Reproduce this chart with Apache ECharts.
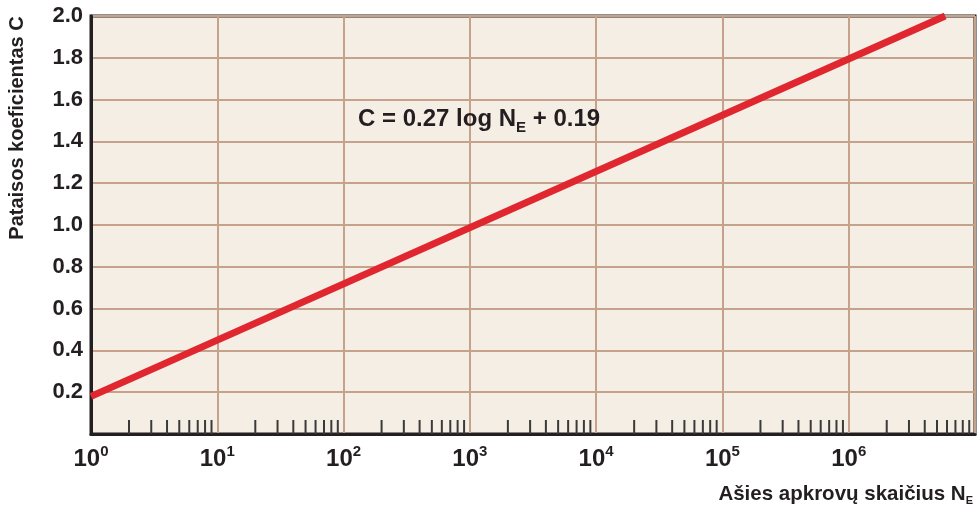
<!DOCTYPE html>
<html>
<head>
<meta charset="utf-8">
<script src="https://cdn.jsdelivr.net/npm/echarts@6/dist/echarts.min.js"></script>
<style>
html,body{margin:0;padding:0;background:#fff;}
#c{width:980px;height:509px;}
</style>
</head>
<body>
<div id="c"></div>
<script>
// Data
const xMin = 1, xMax = 1e7;
const yMin = 0, yMax = 2.0, yStep = 0.2;
const lineN = [1, 5.8e6];
const lineC = [0.18, 2.0];
const minorMultipliers = [2, 3, 4, 5, 6, 7, 8, 9];
const decades = [1, 10, 100, 1000, 10000, 100000, 1000000];
const formulaMain1 = 'C = 0.27 log N';
const formulaSub = 'E';
const formulaMain2 = ' + 0.19';
const yTitle = 'Pataisos koeficientas C';
const xTitle = 'Ašies apkrovų skaičius N';
const xTitleSub = 'E';

const lineData = lineN.map((n, i) => [n, lineC[i]]);
const minorTicks = [];
decades.forEach(d => minorMultipliers.forEach(m => minorTicks.push([m * d, 0])));

const numFont = "'Liberation Sans', Arial, sans-serif";
const titleFont = "'Liberation Sans', Arial, sans-serif";
const dark = '#231f20';
const gridCol = '#c6a28c';

const chart = echarts.init(document.getElementById('c'), null, {renderer: 'canvas'});
chart.setOption({
  animation: false,
  grid: {left: 91, right: 5, top: 16, bottom: 75, show: true,
         backgroundColor: '#f5eee5', borderColor: dark, borderWidth: 3},
  xAxis: {
    type: 'log', logBase: 10, min: xMin, max: xMax,
    axisLine: {show: true, lineStyle: {color: dark, width: 3}},
    axisTick: {show: false},
    splitLine: {show: true, lineStyle: {color: gridCol, width: 2}},
    axisLabel: {
      margin: 10,
      showMaxLabel: false,
      formatter: function (v) {
        const e = Math.round(Math.log10(v));
        if (e >= 7) return '';
        return '{b|10}{s|' + e + '}';
      },
      rich: {
        b: {fontFamily: numFont, fontWeight: 'bold', fontSize: 24, color: dark, lineHeight: 30},
        s: {fontFamily: numFont, fontWeight: 'bold', fontSize: 15, color: dark, lineHeight: 12, verticalAlign: 'top'}
      }
    }
  },
  yAxis: {
    type: 'value', min: yMin, max: yMax, interval: yStep,
    axisLine: {show: true, lineStyle: {color: dark, width: 3}},
    axisTick: {show: false},
    splitLine: {show: true, lineStyle: {color: gridCol, width: 2}},
    axisLabel: {
      margin: 8, showMinLabel: false,
      fontFamily: numFont, fontWeight: 'bold', fontSize: 22, color: dark,
      formatter: v => v.toFixed(1)
    }
  },
  series: [
    {
      type: 'custom',
      coordinateSystem: 'cartesian2d',
      data: minorTicks,
      encode: {x: 0, y: 1},
      z: 3,
      renderItem: function (params, api) {
        const p = api.coord([api.value(0), api.value(1)]);
        return {type: 'line',
          shape: {x1: p[0], y1: p[1], x2: p[0], y2: p[1] - 14},
          style: {stroke: '#3a3a3a', lineWidth: 2}};
      }
    },
    {
      type: 'line',
      data: lineData,
      symbol: 'none',
      clip: true,
      z: 4,
      lineStyle: {color: '#e0262f', width: 7}
    }
  ],
  graphic: [
    {
      type: 'text', left: 358, top: 107, z: 10,
      style: {
        text: '{a|' + formulaMain1 + '}{s|' + formulaSub + '}{a|' + formulaMain2 + '}',
        rich: {
          a: {fontFamily: numFont, fontWeight: 'bold', fontSize: 24, fill: dark, lineHeight: 32},
          s: {fontFamily: numFont, fontWeight: 'bold', fontSize: 15, fill: dark, lineHeight: 16, verticalAlign: 'bottom'}
        }
      }
    },
    {
      type: 'text', x: 17, y: 128, rotation: Math.PI / 2, z: 10,
      style: {text: yTitle, fontFamily: titleFont, fontWeight: 'bold', fontSize: 20,
              fill: dark, align: 'center', verticalAlign: 'middle'}
    },
    {
      type: 'text', right: 7, top: 484, z: 10,
      style: {
        text: '{a|' + xTitle + '}{s|' + xTitleSub + '}',
        rich: {
          a: {fontFamily: titleFont, fontWeight: 'bold', fontSize: 20.5, fill: dark, lineHeight: 24},
          s: {fontFamily: titleFont, fontWeight: 'bold', fontSize: 11, fill: dark, lineHeight: 11, verticalAlign: 'bottom'}
        }
      }
    }
  ]
});
</script>
</body>
</html>
